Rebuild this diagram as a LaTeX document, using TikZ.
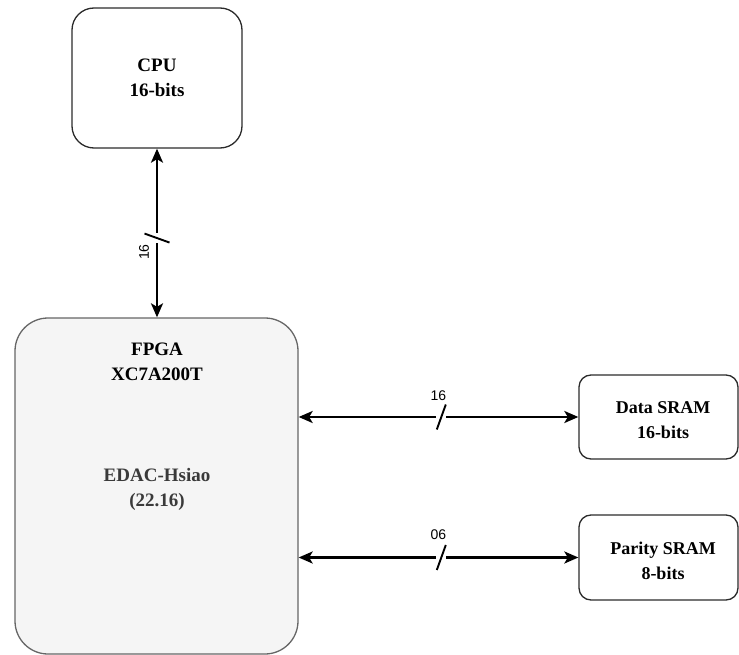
\documentclass[tikz,border=0pt]{standalone}
\usepackage{fontspec}
\setmainfont{Liberation Serif}
\setsansfont{Liberation Sans}
\usetikzlibrary{arrows.meta,calc}
\definecolor{fpgafill}{HTML}{F5F5F5}
\definecolor{fpgaline}{HTML}{666666}
\definecolor{boxline}{HTML}{2B2B2B}
\definecolor{innertext}{HTML}{3A3A3A}
\begin{document}
\begin{tikzpicture}[x=1pt,y=-1pt,
  block/.style={draw=boxline, line width=1.3pt, rounded corners=#1, inner sep=0pt},
  title/.style={align=center, inner sep=0pt, font=\fontsize{19}{25}\selectfont\bfseries},
  small/.style={align=center, inner sep=0pt, font=\fontsize{18}{24.5}\selectfont\bfseries},
  biarrow/.style={line width=2.2pt, {Stealth[length=14pt,width=12pt,inset=3.5pt]}-{Stealth[length=14pt,width=12pt,inset=3.5pt]}},
  slash/.style={line width=1.9pt, line cap=butt},
  buslbl/.style={inner sep=0pt, font=\sffamily\fontsize{14}{14}\selectfont}]
  \useasboundingbox (0,0) rectangle (739,655);

  % blocks
  \node[block=22pt, minimum width=170pt, minimum height=140pt, title] (cpu) at (157,78) {CPU\\16-bits};
  \node[block=33pt, draw=fpgaline, fill=fpgafill, minimum width=283pt, minimum height=336pt] (fpga) at (156.5,486) {};
  \node[title] (fpganame) at (157,362) {FPGA\\XC7A200T};
  \node[title, text=innertext] (edac) at (157,489) {EDAC-Hsiao\\(22.16)};
  \node[block=12pt, minimum width=159pt, minimum height=84pt] (dsram) at (658.5,417) {};
  \node[small] (dsramtxt) at (663,420) {Data SRAM\\16-bits};
  \node[block=12pt, minimum width=159pt, minimum height=85pt] (psram) at (658.5,557.5) {};
  \node[small] (psramtxt) at (663,561) {Parity SRAM\\8-bits};

  % buses
  \draw[biarrow] (cpu.south) -- (cpu.south |- fpga.north);
  \draw[biarrow] (fpga.east |- dsram.west) -- (dsram.west);
  \draw[biarrow] (fpga.east |- psram.west) -- (psram.west);

  % bus-width marks
  \coordinate (s1) at ($(cpu.south)!0.53!(cpu.south |- fpga.north)$);
  \fill[white] ($(s1)+(-3,-5)$) rectangle ($(s1)+(3,5)$);
  \draw[slash] ($(s1)+(-12.5,-4.5)$) -- ($(s1)+(12.5,4.5)$);
  \node[buslbl, rotate=90] (w1) at ($(s1)+(-13,14)$) {16};

  \coordinate (s2) at ($(fpga.east |- dsram.west)!0.51!(dsram.west)$);
  \fill[white] ($(s2)+(-5,-3)$) rectangle ($(s2)+(5,3)$);
  \draw[slash] ($(s2)+(-4.5,12.5)$) -- ($(s2)+(4.5,-12.5)$);
  \node[buslbl] (w2) at ($(s2)+(-3,-21)$) {16};

  \coordinate (s3) at ($(fpga.east |- psram.west)!0.51!(psram.west)$);
  \fill[white] ($(s3)+(-5,-3)$) rectangle ($(s3)+(5,3)$);
  \draw[slash] ($(s3)+(-4.5,12.5)$) -- ($(s3)+(4.5,-12.5)$);
  \node[buslbl] (w3) at ($(s3)+(-3,-23)$) {06};
\end{tikzpicture}
\end{document}
